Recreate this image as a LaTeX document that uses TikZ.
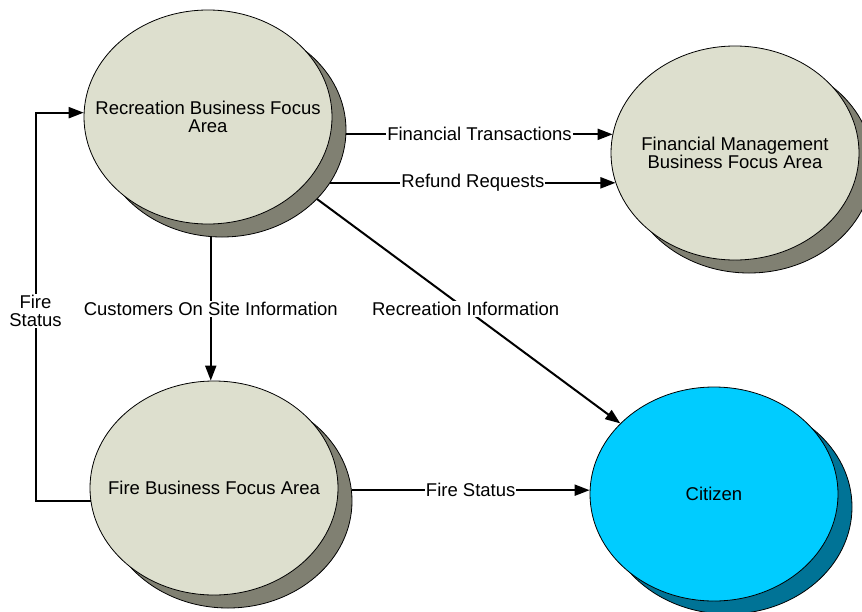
\documentclass[tikz,border=0pt]{standalone}
\usepackage{fontspec}
\setmainfont{Liberation Sans}
\usetikzlibrary{arrows.meta,calc,shapes.geometric}
\definecolor{bubblefill}{RGB}{221,223,206}
\definecolor{bubbleshadow}{RGB}{128,128,114}
\definecolor{citfill}{RGB}{0,204,255}
\definecolor{citshadow}{RGB}{0,115,150}
\tikzset{
  bubble/.style={ellipse, draw=black, line width=0.8pt, minimum width=248pt, minimum height=214pt, inner sep=0pt, fill=bubblefill},
  btext/.style={align=center, font=\fontsize{18.5}{18}\selectfont, inner sep=0pt},
  bshadow/.style={ellipse, draw=black, line width=0.8pt, minimum width=248pt, minimum height=214pt, inner sep=0pt, fill=bubbleshadow},
  flow/.style={line width=2pt, -{Triangle[length=15pt,width=11pt]}},
  flabel/.style={fill=white, inner sep=1pt, align=center, font=\fontsize{18.5}{18}\selectfont}
}
\begin{document}
\begin{tikzpicture}[x=1pt,y=-1pt]
\useasboundingbox (0,0) rectangle (862,611);
% shadows
\node[bshadow] (recsh) at (222,130) {};
\node[bshadow] (finsh) at (749,166) {};
\node[bshadow] (firesh) at (228,501) {};
\node[bshadow, fill=citshadow] (citsh) at (728,507) {};
% bubbles
\node[bubble, label={[btext]center:Recreation Business Focus\\Area}] (rec) at (208,117) {};
\node[bubble, label={[btext]center:Financial Management\\Business Focus Area}] (fin) at (735,153) {};
\node[bubble, label={[btext]center:Fire Business Focus Area}] (fire) at (214,488) {};
\node[bubble, fill=citfill, label={[btext]center:Citizen}] (cit) at (714,494) {};
% connectors
\draw[flow] (fire.186) -- ++(-55,0) |- (rec.178)
  node[flabel, pos=0.245] {Fire\\Status};
\draw[flow] (recsh.264) -- (recsh.264 |- fire.north)
  node[flabel, midway] {Customers On Site Information};
\draw[flow] (recsh.-2) -- (recsh.-2 -| fin.171)
  node[flabel, midway] {Financial Transactions};
\draw[flow] (recsh.-26) -- (recsh.-26 -| fin.194)
  node[flabel, midway] {Refund Requests};
\draw[flow] (recsh.-36) -- (cit.143)
  node[flabel, pos=0.49] {Recreation Information};
\draw[flow] (firesh.5) -- (firesh.5 -| cit.west)
  node[flabel, midway] {Fire Status};
\end{tikzpicture}
\end{document}
